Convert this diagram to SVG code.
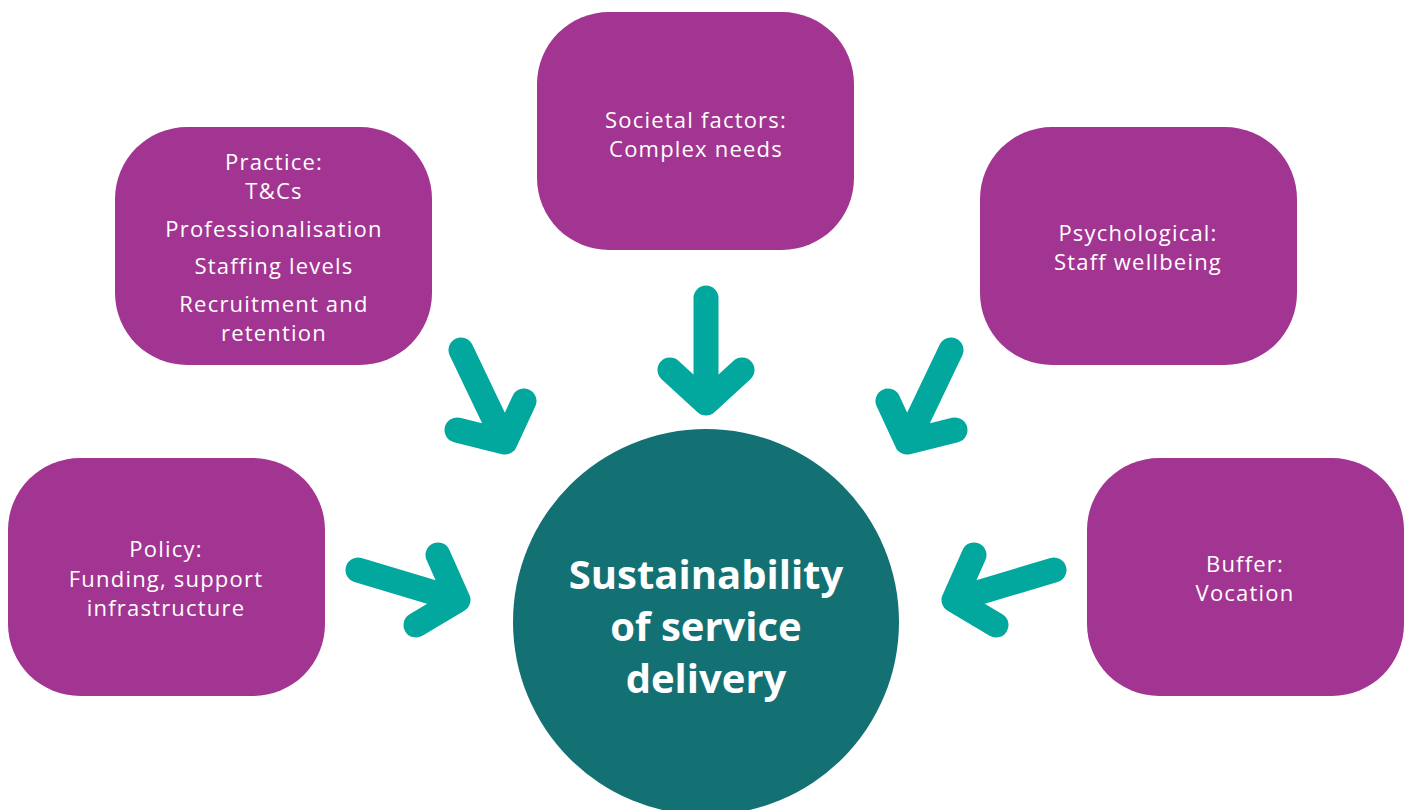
<svg xmlns="http://www.w3.org/2000/svg" width="1408" height="810" viewBox="0 0 1408 810">
  <style>
    .box { fill: #A33592; }
    .hub { fill: #137073; }
    .lbl { font-family: "Open Sans", "Noto Sans", "Liberation Sans", sans-serif; font-size: 22px; letter-spacing: 1.2px; fill: #FFFFFF; text-anchor: middle; }
    .hubtxt { font-family: "Open Sans", "Noto Sans", "Liberation Sans", sans-serif; font-size: 40px; font-weight: 700; fill: #FFFFFF; text-anchor: middle; }
    .arrow { fill: none; stroke: #02A89E; stroke-width: 25; stroke-linecap: round; stroke-linejoin: round; }
  </style>
  <rect width="1408" height="810" fill="#FFFFFF"/>

  <g id="hub">
    <circle class="hub" cx="706" cy="622" r="193"/>
    <text class="hubtxt" x="706" y="589">Sustainability</text>
    <text class="hubtxt" x="706" y="641">of service</text>
    <text class="hubtxt" x="706" y="693">delivery</text>
  </g>

  <g id="practice">
    <rect class="box" x="115" y="127" width="317" height="238" rx="72"/>
    <text class="lbl" x="274" y="170">Practice:</text>
    <text class="lbl" x="274" y="199">T&amp;Cs</text>
    <text class="lbl" x="274" y="237">Professionalisation</text>
    <text class="lbl" x="274" y="274">Staffing levels</text>
    <text class="lbl" x="274" y="312">Recruitment and</text>
    <text class="lbl" x="274" y="341">retention</text>
  </g>

  <g id="societal">
    <rect class="box" x="537" y="12" width="317" height="238" rx="72"/>
    <text class="lbl" x="696" y="128">Societal factors:</text>
    <text class="lbl" x="696" y="157">Complex needs</text>
  </g>

  <g id="psychological">
    <rect class="box" x="980" y="127" width="317" height="238" rx="72"/>
    <text class="lbl" x="1138" y="241">Psychological:</text>
    <text class="lbl" x="1138" y="270">Staff wellbeing</text>
  </g>

  <g id="policy">
    <rect class="box" x="8" y="458" width="317" height="238" rx="72"/>
    <text class="lbl" x="166" y="557">Policy:</text>
    <text class="lbl" x="166" y="587">Funding, support</text>
    <text class="lbl" x="166" y="616">infrastructure</text>
  </g>

  <g id="buffer">
    <rect class="box" x="1087" y="458" width="317" height="238" rx="72"/>
    <text class="lbl" x="1245" y="572">Buffer:</text>
    <text class="lbl" x="1245" y="601">Vocation</text>
  </g>

  <g id="connectors">
    <!-- societal -> hub -->
    <path class="arrow" d="M706 298 V402 M670 370 L706 403 L742 370"/>
    <!-- practice -> hub -->
    <path class="arrow" d="M461 350 L505 442 M524 401 L505 442 L457 430"/>
    <!-- psychological -> hub -->
    <path class="arrow" d="M951 350 L907 442 M888 401 L907 442 L955 430"/>
    <!-- policy -> hub -->
    <path class="arrow" d="M358 570 L458 600 M438 555 L458 600 L416 625"/>
    <!-- buffer -> hub -->
    <path class="arrow" d="M1054 570 L954 600 M974 555 L954 600 L996 625"/>
  </g>
</svg>
